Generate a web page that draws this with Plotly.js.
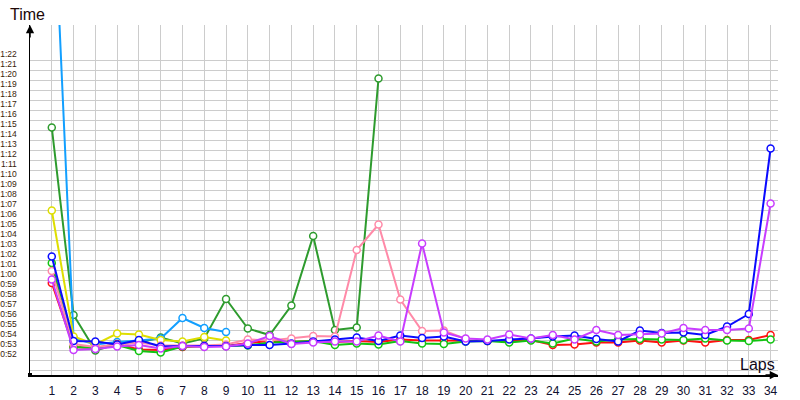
<!DOCTYPE html>
<html>
<head>
<meta charset="utf-8">
<script src="https://cdn.plot.ly/plotly-3.0.1.min.js"></script>
<style>html,body{margin:0;padding:0;background:#fff;}#chart{width:800px;height:400px;}</style>
</head>
<body>
<div id="chart"></div>
<script>
// Lap numbers
const laps = [1,2,3,4,5,6,7,8,9,10,11,12,13,14,15,16,17,18,19,20,21,22,23,24,25,26,27,28,29,30,31,32,33,34];

// Lap times in seconds, one array per driver
const darkGreenTimes = [75.25,56.5,52.95,53.6,53.75,54.25,53.65,54.15,58.1,55.15,54.5,57.45,64.4,55.0,55.25,80.15];
const lightBlueTimes = [102.7,54.2,53.55,53.8,53.95,54.15,56.2,55.2,54.8];
const yellowTimes    = [66.95,54.35,53.55,54.65,54.55,54.0,53.85,54.3,53.95];
const redTimes       = [59.7,53.3,53.2,53.6,53.05,53.0,53.3,53.4,53.4,53.7,53.9,53.8,53.9,53.8,53.9,53.8,54.05,53.95,53.95,53.9,53.9,53.9,54.0,53.5,53.55,53.75,53.75,53.95,53.75,53.95,53.75,54.0,54.0,54.5];
const greenTimes     = [61.7,53.3,53.2,53.5,52.9,52.75,53.35,53.4,53.4,53.45,53.75,53.8,53.9,53.5,53.65,53.55,53.9,53.65,53.6,53.85,53.9,53.75,53.95,53.65,54.15,53.85,54.05,54.1,54.05,54.0,54.15,53.95,53.9,54.05];
const pinkTimes      = [60.9,53.6,53.3,53.5,53.75,53.45,53.45,53.45,53.55,54.05,53.95,54.15,54.4,54.35,63.0,65.55,58.05,54.9,54.95,54.1];
const blueTimes      = [62.35,53.9,53.85,53.55,54.0,53.35,53.4,53.4,53.4,53.5,53.5,53.65,53.85,54.05,54.25,53.9,54.45,54.2,54.35,53.85,53.9,54.05,54.15,54.35,54.45,54.1,53.85,54.95,54.7,54.75,54.5,55.35,56.6,73.15];
const violetTimes    = [60.05,53.0,53.1,53.35,53.5,53.15,53.4,53.3,53.35,53.65,54.4,53.6,53.75,53.85,53.85,54.45,53.85,63.65,54.75,54.15,54.05,54.55,54.15,54.5,54.05,55.0,54.5,54.55,54.65,55.2,55.0,55.0,55.15,67.65];

// Y tick values (seconds) and labels
const yTickVals = [51,52,53,54,55,56,57,58,59,60,61,62,63,64,65,66,67,68,69,70,71,72,73,74,75,76,77,78,79,80,81,82];
const yTickText = ['','0:52','0:53','0:54','0:55','0:56','0:57','0:58','0:59','1:00','1:01','1:02','1:03','1:04','1:05','1:06','1:07','1:08','1:09','1:10','1:11','1:12','1:13','1:14','1:15','1:16','1:17','1:18','1:19','1:20','1:21','1:22'];

function series(times, color) {
  return {
    type: 'scatter', mode: 'lines+markers',
    x: laps.slice(0, times.length), y: times,
    line: {color: color, width: 2},
    marker: {symbol: 'circle', size: 7, color: '#ffffff', line: {color: color, width: 1.5}},
    hoverinfo: 'skip', showlegend: false
  };
}

const data = [
  series(darkGreenTimes, '#2e9b2e'),
  series(lightBlueTimes, '#129fff'),
  series(yellowTimes, '#dede00'),
  series(redTimes, '#ff1010'),
  series(greenTimes, '#12c412'),
  series(pinkTimes, '#ff8aa8'),
  series(blueTimes, '#0a0aff'),
  series(violetTimes, '#c83cff')
];

const layout = {
  width: 800, height: 400,
  margin: {l: 30, r: 22, t: 25, b: 25, pad: 0},
  paper_bgcolor: '#ffffff', plot_bgcolor: '#ffffff',
  font: {family: 'Liberation Sans, Arial, sans-serif'},
  xaxis: {
    range: [0, 34.34], tickmode: 'array', tickvals: laps, ticktext: laps.map(String),
    showgrid: true, gridcolor: '#cccccc', gridwidth: 1, zeroline: false,
    showline: true, linecolor: '#000000', linewidth: 1.5, ticks: '',
    tickfont: {size: 12, color: '#101030', family: 'Liberation Sans, Arial, sans-serif'},
    ticklabelstandoff: 4
  },
  yaxis: {
    range: [50.5, 85.5], tickmode: 'array', tickvals: yTickVals, ticktext: yTickText,
    showgrid: true, gridcolor: '#cccccc', gridwidth: 1, zeroline: false,
    showline: true, linecolor: '#000000', linewidth: 1.5, ticks: '',
    ticklabelposition: 'outside top', automargin: false,
    tickfont: {size: 8.5, color: '#3a1c08', family: 'Liberation Sans, Arial, sans-serif'},
    ticklabelstandoff: 10
  },
  shapes: [
    {type: 'rect', xref: 'paper', yref: 'paper', xsizemode: 'pixel', ysizemode: 'pixel',
     xanchor: 0, yanchor: 0, x0: -2, x1: 2, y0: -2, y1: 2,
     fillcolor: '#000000', line: {width: 0}}
  ],
  annotations: [
    {xref: 'paper', yref: 'paper', x: 0, y: 1, text: '', showarrow: true,
     axref: 'pixel', ayref: 'pixel', ax: 0, ay: 14, arrowhead: 2, arrowsize: 1.1, arrowwidth: 1.5, arrowcolor: '#000000'},
    {xref: 'paper', yref: 'paper', x: 1, y: 0, text: '', showarrow: true,
     axref: 'pixel', ayref: 'pixel', ax: -14, ay: 0, arrowhead: 2, arrowsize: 1.1, arrowwidth: 1.5, arrowcolor: '#000000'},
    {xref: 'paper', yref: 'paper', x: -0.003, y: 1.0286, xanchor: 'center', yanchor: 'middle',
     text: 'Time', showarrow: false, font: {size: 16, color: '#200808', family: 'Liberation Sans, Arial, sans-serif'}},
    {xref: 'paper', yref: 'paper', x: 0.973, y: 0.031, xanchor: 'center', yanchor: 'middle',
     text: 'Laps', showarrow: false, font: {size: 16, color: '#100818', family: 'Liberation Sans, Arial, sans-serif'}}
  ]
};

Plotly.newPlot('chart', data, layout, {staticPlot: true, displayModeBar: false});
</script>
</body>
</html>
